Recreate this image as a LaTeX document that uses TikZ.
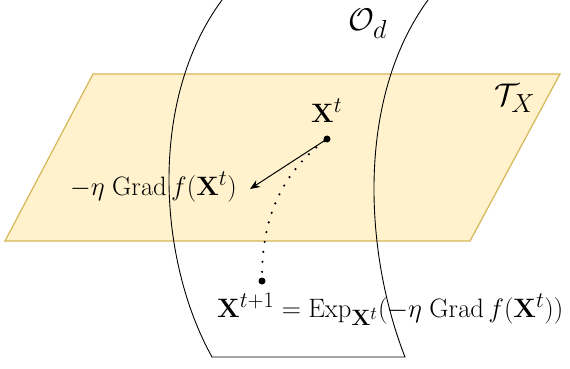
\documentclass[tikz,border=0pt]{standalone}
\usetikzlibrary{arrows.meta}
\definecolor{planefill}{HTML}{FFF2CC}
\definecolor{planedraw}{HTML}{D6B656}
\tikzset{
  plane/.style={fill=planefill,draw=planedraw,line width=1.2pt,line join=miter},
  manifold/.style={draw=black,line width=0.9pt},
  lbl/.style={inner sep=0pt,font=\fontsize{24.88}{30}\selectfont,text=black,scale=1.07},
  biglbl/.style={inner sep=0pt,font=\fontsize{24.88}{30}\selectfont,text=black,scale=1.26},
  dotpt/.style={circle,fill=black,inner sep=0pt,minimum size=7pt},
  steparrow/.style={draw=black,line width=1pt,-{Stealth[length=10pt,width=8pt]}},
  retract/.style={draw=black,line width=2.4pt,line cap=round,dash pattern=on 0pt off 10pt}
}
\begin{document}
\begin{tikzpicture}[x=1pt,y=-1pt]
\useasboundingbox (0,0) rectangle (570,369);
% tangent plane
\draw[plane] (93,74) -- (560,74) -- (470,241) -- (5,241) -- cycle;
% manifold band
\draw[manifold] (222,0) .. controls (148,100) and (158,260) .. (212,357)
  -- (405,357) .. controls (365,255) and (355,100) .. (428,0);
% labels
\node[biglbl,anchor=base west] (Od) at (348,31) {$\mathcal{O}_d$};
\node[biglbl,anchor=base west] (TX) at (494,105) {$\mathcal{T}_X$};
\node[lbl,anchor=base west] (Xt) at (311,122) {$\mathbf{X}^t$};
% points
\node[dotpt] (p) at (327,139) {};
\node[dotpt] (q) at (262,281) {};
\coordinate (tip) at (250,189);
\draw[steparrow] (p) -- (tip);
\draw[retract] (p) .. controls (280,175) and (262,220) .. (q);
\node[lbl,anchor=base west] (grad) at (70,195) {$-\eta\;\mathrm{Grad}\,f(\mathbf{X}^t)$};
\node[lbl,anchor=base west] (upd) at (217,317) {$\mathbf{X}^{t+1}=\mathrm{Exp}_{\mathbf{X}^t}(-\eta\;\mathrm{Grad}\,f(\mathbf{X}^t))$};
\end{tikzpicture}
\end{document}
